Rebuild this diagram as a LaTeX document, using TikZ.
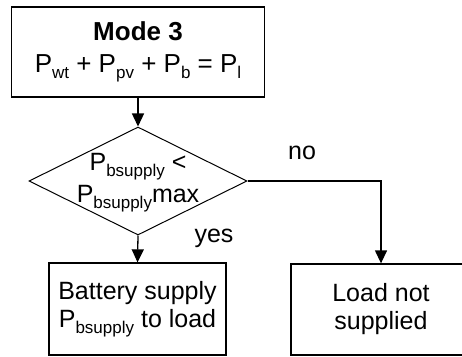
\documentclass[tikz,border=0pt]{standalone}
\usepackage{fontspec}
\setmainfont{Liberation Sans}
\usetikzlibrary{shapes.geometric,arrows.meta}
\newcommand{\sbs}[1]{\raisebox{-0.25em}{\fontsize{17}{17}\selectfont #1}}
\tikzset{
  box/.style={draw, line width=1.3pt, inner sep=0pt, align=center},
  decision/.style={draw, diamond, line width=1pt, inner sep=0pt},
  arr/.style={line width=1.3pt, -{Triangle[length=13pt,width=12pt]}},
  bigtxt/.style={font=\fontsize{26}{32}\selectfont},
  midtxt/.style={font=\fontsize{25}{32}\selectfont},
  smalltxt/.style={font=\fontsize{25}{28}\selectfont},
  lbl/.style={inner sep=0pt, font=\fontsize{25}{28}\selectfont}
}
\begin{document}
\begin{tikzpicture}[x=1pt,y=1pt]
\useasboundingbox (0,0) rectangle (462,356);
\node[box, bigtxt, minimum width=253pt, minimum height=90pt] (top) at (138,304)
  {\textbf{Mode 3}\\P\sbs{wt} + P\sbs{pv} + P\sbs{b} = P\sbs{l}};
\node[decision, minimum width=218pt, minimum height=108pt] (dia) at (138,175) {};
\node[inner sep=0pt, align=center, midtxt] (dtext) at (138,173)
  {P\sbs{bsupply} <\\P\sbs{bsupply}max};
\node[box, smalltxt, minimum width=177pt, minimum height=92pt] (bl) at (137.5,47)
  {Battery supply\\P\sbs{bsupply} to load};
\node[box, smalltxt, minimum width=180pt, minimum height=91pt] (br) at (381,46.5)
  {Load not\\supplied};
\node[lbl] (no) at (302,203) {no};
\node[lbl] (yes) at (214,118) {yes};
\draw[arr] (top.south) -- (dia.north);
\draw[arr] (dia.south) -- (bl.north);
\draw[arr] (dia.east) -| (br.north);
\end{tikzpicture}
\end{document}
